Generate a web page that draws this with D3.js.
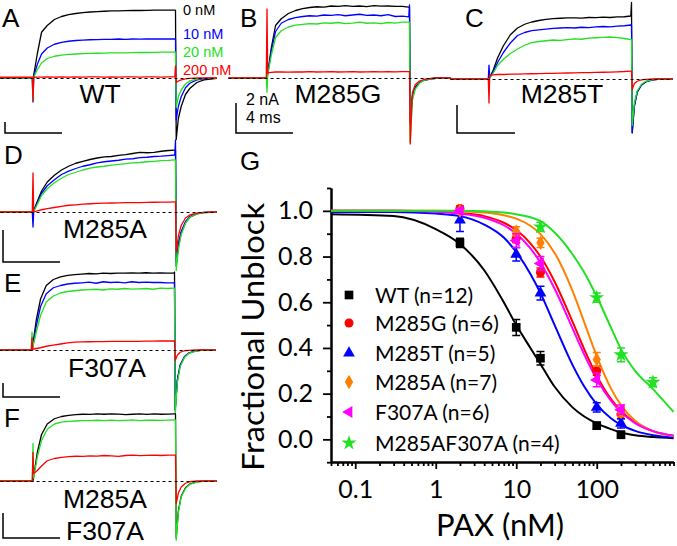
<!DOCTYPE html>
<html><head><meta charset="utf-8">
<script src="https://cdn.jsdelivr.net/npm/d3@7"></script>
<style>body{margin:0;background:#fff}svg{display:block}</style>
</head><body>
<svg id="c" width="677" height="546"></svg>
<script>
// ---------- time base for current traces (ms) ----------
const T = [-2.7,-0.05,0,0.05,0.3,0.6,1.0,1.5,2.0,2.5,3.0,3.5,4.0,4.5,5.0,5.5,6.0,6.5,7.0,7.5,8.0,8.5,9.0,9.5,9.95,10.0,10.05,10.2,10.4,10.7,11.0,11.5,12.0,12.9];
// ---------- current traces (nA) ----------
const A_black=[0,0,0,0.2,1.6,3.05,3.5,3.9,4.1,4.22,4.3,4.36,4.4,4.43,4.45,4.47,4.48,4.49,4.5,4.5,4.51,4.52,4.52,4.53,4.53,4.53,-4.1,-2.7,-1.9,-1.1,-0.7,-0.3,-0.12,-0.03];
const A_blue=[0,0,-1.6,0.1,0.9,1.6,2.0,2.25,2.38,2.45,2.5,2.53,2.55,2.56,2.58,2.57,2.6,2.58,2.6,2.59,2.61,2.6,2.6,2.61,2.6,2.6,-2.8,-1.9,-1.25,-0.65,-0.35,-0.13,-0.05,0];
const A_green=[0,0,-1.5,0.05,0.55,1.0,1.3,1.45,1.53,1.58,1.6,1.62,1.64,1.65,1.66,1.67,1.68,1.68,1.69,1.7,1.7,1.71,1.72,1.72,1.73,1.73,-1.95,-1.25,-0.8,-0.4,-0.2,-0.07,-0.02,0];
const A_red=[0.05,0.05,-1.5,0.05,0.06,0.06,0.07,0.06,0.07,0.06,0.07,0.06,0.07,0.07,0.06,0.07,0.06,0.07,0.07,0.06,0.07,0.07,0.06,0.07,0.07,0.8,-0.3,-0.2,-0.12,-0.06,-0.03,0,0,0];
const B_black=[0,0,0,0.3,2.0,3.5,3.95,4.3,4.5,4.62,4.7,4.75,4.72,4.8,4.78,4.82,4.78,4.8,4.76,4.82,4.79,4.8,4.77,4.78,4.73,4.73,-2.8,-1.2,-0.6,-0.3,-0.15,-0.05,0,0];
const B_blue=[0,0,0,0.3,1.8,3.1,3.65,3.9,4.02,4.1,4.15,4.12,4.2,4.17,4.22,4.15,4.2,4.25,4.18,4.2,4.15,4.22,4.1,4.12,4.07,4.87,-3.0,-1.3,-0.65,-0.32,-0.15,-0.05,0,0];
const B_green=[0,0,-0.95,0.2,1.5,2.7,3.15,3.4,3.52,3.58,3.63,3.6,3.68,3.65,3.7,3.62,3.66,3.72,3.65,3.68,3.62,3.7,3.66,3.72,3.73,3.73,-4.3,-1.5,-0.75,-0.35,-0.15,-0.05,-0.02,0];
const B_red=[0,0,4.6,0.35,0.38,0.4,0.4,0.39,0.41,0.4,0.42,0.4,0.41,0.43,0.4,0.41,0.42,0.4,0.41,0.43,0.41,0.42,0.41,0.42,0.42,0.42,-4.4,-1.0,-0.45,-0.2,-0.1,-0.03,0,0];
const C_black=[0,0,0,0.1,0.6,1.4,2.2,2.95,3.4,3.65,3.8,3.9,3.98,4.02,4.05,4.07,4.08,4.06,4.1,4.09,4.12,4.1,4.14,4.15,4.2,5.1,-3.6,-1.8,-0.9,-0.4,-0.2,-0.05,0,0];
const C_blue=[0,0,0.93,0.1,0.5,1.1,1.75,2.4,2.9,3.1,3.22,3.28,3.33,3.38,3.4,3.42,3.4,3.45,3.43,3.47,3.5,3.48,3.52,3.55,3.6,3.6,-3.55,-1.8,-0.85,-0.4,-0.18,-0.05,0,0];
const C_green=[0,0,0,0.05,0.4,0.9,1.3,1.7,2.0,2.25,2.42,2.5,2.55,2.6,2.58,2.63,2.68,2.65,2.72,2.75,2.78,2.8,2.76,2.7,2.62,2.62,-3.1,-1.6,-0.8,-0.35,-0.15,-0.04,0,0];
const C_red=[0,0,-1.6,0.25,0.28,0.3,0.3,0.32,0.33,0.34,0.35,0.36,0.37,0.38,0.39,0.4,0.41,0.42,0.43,0.44,0.45,0.46,0.48,0.5,0.53,0.53,-0.7,-0.3,-0.15,-0.06,-0.02,0,0,0];
const D_black=[0,0,0,0.1,0.7,1.4,2.0,2.45,2.8,3.05,3.25,3.38,3.5,3.6,3.68,3.7,3.78,3.82,3.9,3.97,3.95,3.98,4.05,4.1,4.13,4.13,-3.6,-2.3,-1.4,-0.7,-0.35,-0.12,-0.04,0];
const D_blue=[0,0,-1.0,0.05,0.6,1.25,1.75,2.15,2.5,2.72,2.9,3.05,3.15,3.28,3.35,3.4,3.45,3.52,3.55,3.62,3.65,3.7,3.72,3.76,3.8,4.8,-3.3,-2.1,-1.3,-0.65,-0.3,-0.1,-0.03,0];
const D_green=[0,0,0,0.05,0.5,1.1,1.55,1.95,2.25,2.5,2.65,2.8,2.92,3.0,3.05,3.12,3.18,3.22,3.28,3.3,3.35,3.38,3.42,3.44,3.47,3.47,-3.9,-2.5,-1.5,-0.75,-0.35,-0.12,-0.04,0];
const D_red=[0,0,2.6,0.0,0.08,0.15,0.22,0.3,0.38,0.45,0.48,0.52,0.55,0.57,0.59,0.6,0.61,0.62,0.63,0.63,0.64,0.65,0.66,0.66,0.67,0.67,-2.7,-1.6,-0.9,-0.4,-0.2,-0.07,-0.02,0];
const E_black=[0,0,0,0.3,2.0,3.4,4.3,4.7,4.88,4.98,5.03,5.06,5.1,5.08,5.12,5.1,5.13,5.12,5.14,5.12,5.15,5.13,5.14,5.13,5.13,5.2,-4.0,-2.0,-1.0,-0.45,-0.2,-0.06,0,0];
const E_blue=[0,0,0,0.2,1.6,2.9,3.75,4.15,4.3,4.4,4.45,4.48,4.52,4.45,4.55,4.5,4.52,4.48,4.55,4.5,4.52,4.5,4.5,4.48,4.47,4.47,-4.0,-2.0,-1.0,-0.45,-0.2,-0.06,0,0];
const E_green=[0,0,1.2,0.15,1.2,2.3,3.2,3.6,3.8,3.9,3.95,4.0,4.02,4.05,4.0,4.08,4.05,4.1,4.06,4.08,4.1,4.05,4.12,4.1,4.13,4.13,-4.3,-2.2,-1.1,-0.5,-0.22,-0.07,0,0];
const E_red=[0,0,0.8,0.05,0.1,0.15,0.25,0.33,0.4,0.47,0.52,0.54,0.55,0.56,0.56,0.57,0.57,0.58,0.58,0.58,0.59,0.59,0.6,0.6,0.6,0.6,-0.7,-0.35,-0.15,-0.05,-0.02,0,0,0];
const F_black=[0,0,0,0.3,1.9,3.1,3.8,4.15,4.3,4.38,4.42,4.45,4.44,4.47,4.45,4.48,4.46,4.42,4.45,4.47,4.44,4.47,4.45,4.46,4.47,4.47,-3.8,-2.0,-1.0,-0.45,-0.2,-0.06,0,0];
const F_green=[0,0,2.5,0.2,1.6,2.7,3.45,3.8,3.92,3.98,4.0,4.03,4.02,4.05,4.03,4.06,4.02,4.04,4.07,4.03,4.05,4.06,4.04,4.06,4.07,4.07,-3.95,-2.1,-1.05,-0.5,-0.22,-0.07,0,0];
const F_red=[0,0,1.9,0.5,0.7,1.0,1.35,1.5,1.58,1.62,1.65,1.64,1.68,1.66,1.7,1.68,1.64,1.7,1.72,1.69,1.71,1.72,1.7,1.72,1.73,1.73,-1.5,-0.8,-0.4,-0.15,-0.05,0,0,0];
const concLabels=["0 nM","10 nM","20 nM","200 nM"];
const scaleLabels=["2 nA","4 ms"];

// ---------- dose-response (panel G) ----------
const seriesNames=["WT (n=12)","M285G (n=6)","M285T (n=5)","M285A (n=7)","F307A (n=6)","M285AF307A (n=4)"];
const WT_conc=[2,10,20,100,200], WT_val=[0.86,0.49,0.355,0.06,0.02], WT_err=[0.02,0.035,0.03,0.015,0.015];
const M285G_conc=[2,10,20,100,200], M285G_val=[1.01,0.88,0.73,0.30,0.11], M285G_err=[0.01,0.02,0.02,0.02,0.02];
const M285T_conc=[2,10,20,100,200], M285T_val=[0.96,0.81,0.64,0.14,0.07], M285T_err=[0.05,0.03,0.03,0.02,0.02];
const M285A_conc=[2,10,20,100,200], M285A_val=[1.0,0.91,0.86,0.35,0.12], M285A_err=[0.01,0.02,0.02,0.03,0.02];
const F307A_conc=[2,10,20,100,200], F307A_val=[1.0,0.87,0.77,0.26,0.13], F307A_err=[0.01,0.03,0.03,0.03,0.02];
const DM_conc=[20,100,200,500], DM_val=[0.93,0.62,0.37,0.25], DM_err=[0.02,0.02,0.03,0.02];
const fitConc=[0.05,0.3,1,2,4,7,10,15,20,30,50,70,100,150,200,300,500,900];
const WT_fit=[0.985,0.977,0.92,0.855,0.74,0.6,0.5,0.4,0.33,0.23,0.14,0.1,0.07,0.045,0.03,0.018,0.01,0.005];
const M285G_fit=[1.0,1.0,0.997,0.99,0.977,0.948,0.916,0.858,0.8,0.69,0.515,0.394,0.279,0.177,0.124,0.073,0.036,0.016];
const M285T_fit=[0.995,0.995,0.988,0.977,0.94,0.883,0.82,0.724,0.64,0.5,0.326,0.231,0.153,0.092,0.063,0.037,0.018,0.008];
const M285A_fit=[1.0,1.0,1.0,0.998,0.993,0.981,0.966,0.935,0.898,0.816,0.65,0.512,0.364,0.223,0.15,0.081,0.036,0.013];
const F307A_fit=[1.0,1.0,0.996,0.988,0.97,0.937,0.9,0.836,0.773,0.659,0.486,0.371,0.264,0.169,0.119,0.071,0.036,0.016];
const DM_fit=[1.0,1.0,1.0,1.0,0.998,0.993,0.985,0.972,0.955,0.905,0.81,0.73,0.625,0.49,0.395,0.3,0.22,0.12];
const xMajor=[0.1,1,10,100], xTickLabels=["0.1","1","10","100"];
const yMajor=[0,0.2,0.4,0.6,0.8,1.0], yTickLabels=["0.0","0.2","0.4","0.6","0.8","1.0"];

// ---------- drawing ----------
const BLACK="#000", BLUE="#0000ff", GREEN="#22e022", RED="#ff0000", ORANGE="#ff8000", MAG="#ff00ff";
const svg=d3.select("#c");
const ARIAL="'Liberation Sans', Arial, sans-serif";
const CAL="Lato, 'Open Sans', sans-serif";

const panels=[
 {letter:"A",lx:2,ly:27,onset:33,base:78,traces:[[A_black,BLACK],[A_blue,BLUE],[A_green,GREEN],[A_red,RED]],names:[["WT",100,103]],bar:[5,122,133,62]},
 {letter:"B",lx:240,ly:27,onset:267,base:78,traces:[[B_black,BLACK],[B_blue,BLUE],[B_green,GREEN],[B_red,RED]],names:[["M285G",338,103]],bar:[236,103,133,293]},
 {letter:"C",lx:465,ly:27,onset:489,base:79,traces:[[C_black,BLACK],[C_blue,BLUE],[C_green,GREEN],[C_red,RED]],names:[["M285T",562,103]],bar:[457,105,133,515]},
 {letter:"D",lx:4,ly:164,onset:33,base:212,traces:[[D_black,BLACK],[D_blue,BLUE],[D_green,GREEN],[D_red,RED]],names:[["M285A",105,238]],bar:[3,230,262,60]},
 {letter:"E",lx:4,ly:292,onset:32,base:350,traces:[[E_black,BLACK],[E_blue,BLUE],[E_green,GREEN],[E_red,RED]],names:[["F307A",107,377]],bar:[3,383,397,60]},
 {letter:"F",lx:4,ly:427,onset:33,base:481,traces:[[F_black,BLACK],[F_green,GREEN],[F_red,RED]],names:[["M285A",105,508],["F307A",105,540]],bar:[3,513,538,60]}
];

panels.forEach(p=>{
  const x=d3.scaleLinear().domain([0,4]).range([p.onset,p.onset+57]);
  const y=d3.scaleLinear().domain([0,2]).range([p.base,p.base-30]);
  const line=d3.line().x((d,i)=>x(T[i])).y(d=>y(d));
  const g=svg.append("g");
  p.traces.forEach(([vals,col])=>{
    g.append("path").attr("d",line(vals)).attr("fill","none").attr("stroke",col).attr("stroke-width",1.3).attr("stroke-linejoin","round");
  });
  g.append("line").attr("x1",x(T[0])).attr("x2",x(T[T.length-1])).attr("y1",y(0)+0.5).attr("y2",y(0)+0.5)
    .attr("stroke","#000").attr("stroke-width",1).attr("stroke-dasharray","3,3");
  g.append("text").attr("x",p.lx).attr("y",p.ly).text(p.letter).attr("font-family",ARIAL).attr("font-size",26);
  p.names.forEach(([t,cx,by])=>g.append("text").attr("x",cx).attr("y",by).attr("text-anchor","middle").text(t).attr("font-family",ARIAL).attr("font-size",26.5));
  const [bx,by1,by2,bx2]=p.bar;
  g.append("path").attr("d",`M${bx},${by1}V${by2}H${bx2}`).attr("fill","none").attr("stroke","#000").attr("stroke-width",1.5);
});
// concentration labels (panel A)
const cl=[[BLACK,15],[BLUE,39],[GREEN,57],[RED,75]];
concLabels.forEach((t,i)=>svg.append("text").attr("x",183).attr("y",cl[i][1]).text(t).attr("fill",cl[i][0]).attr("font-family",ARIAL).attr("font-size",14.5));
svg.append("text").attr("x",246).attr("y",105).text(scaleLabels[0]).attr("font-family",ARIAL).attr("font-size",16);
svg.append("text").attr("x",246).attr("y",123).text(scaleLabels[1]).attr("font-family",ARIAL).attr("font-size",16);

// ---------- panel G ----------
const gx=d3.scaleLog().domain([0.05,900]).range([331,331+80.5*Math.log10(900/0.05)]);
const gy=d3.scaleLinear().domain([-0.1,1.1]).range([462.2,188]);
const G=svg.append("g");
G.append("text").attr("x",240).attr("y",170).text("G").attr("font-family",ARIAL).attr("font-size",26);

const xMinor=[];
[0.01,0.1,1,10,100].forEach(d=>{for(let k=2;k<=9;k++){const v=d*k;if(v>=0.05&&v<=900)xMinor.push(v);}});
const yMinor=[-0.1,0.1,0.3,0.5,0.7,0.9,1.1];

G.append("g").attr("transform","translate(0,462)")
 .call(d3.axisBottom(gx).tickValues(xMajor).tickSize(7).tickSizeOuter(0).tickPadding(11).tickFormat((d,i)=>xTickLabels[i]));
G.append("g").attr("transform","translate(0,462)").call(d3.axisBottom(gx).tickValues(xMinor).tickSize(4).tickSizeOuter(0).tickFormat(""));
G.append("g").attr("transform","translate(331,0)")
 .call(d3.axisLeft(gy).tickValues(yMajor).tickSize(8).tickSizeOuter(0).tickPadding(10).tickFormat((d,i)=>yTickLabels[i]));
G.append("g").attr("transform","translate(331,0)").call(d3.axisLeft(gy).tickValues(yMinor).tickSize(4).tickSizeOuter(0).tickFormat(""));
G.selectAll(".domain").attr("stroke","#000").attr("stroke-width",2);
G.selectAll(".tick line").attr("stroke","#000").attr("stroke-width",1.8);
G.selectAll(".tick text").attr("font-family",CAL).attr("font-size",25).attr("fill","#000");

G.append("text").attr("transform","translate(264,337) rotate(-90)").attr("text-anchor","middle")
 .text("Fractional Unblock").attr("font-family",CAL).attr("font-size",31).attr("textLength",268).attr("lengthAdjust","spacingAndGlyphs");
G.append("text").attr("x",500).attr("y",536).attr("text-anchor","middle").text("PAX (nM)").attr("font-family",CAL).attr("font-size",31);

const series=[
 {c:WT_conc,v:WT_val,e:WT_err,f:WT_fit,col:BLACK,sym:d3.symbolSquare,size:75,rot:0},
 {c:M285G_conc,v:M285G_val,e:M285G_err,f:M285G_fit,col:RED,sym:d3.symbolCircle,size:64,rot:0},
 {c:M285T_conc,v:M285T_val,e:M285T_err,f:M285T_fit,col:BLUE,sym:d3.symbolTriangle,size:60,rot:0},
 {c:M285A_conc,v:M285A_val,e:M285A_err,f:M285A_fit,col:ORANGE,sym:d3.symbolDiamond,size:60,rot:0},
 {c:F307A_conc,v:F307A_val,e:F307A_err,f:F307A_fit,col:MAG,sym:d3.symbolTriangle,size:60,rot:-90},
 {c:DM_conc,v:DM_val,e:DM_err,f:DM_fit,col:GREEN,sym:d3.symbolStar,size:70,rot:0}
];
const fitLine=d3.line().x((d,i)=>gx(fitConc[i])).y(d=>gy(d)).curve(d3.curveMonotoneX);
series.forEach(s=>{
  G.append("path").attr("d",fitLine(s.f)).attr("fill","none").attr("stroke",s.col).attr("stroke-width",2);
});
series.forEach(s=>{
  s.c.forEach((c,i)=>{
    const px=gx(c), y1=gy(s.v[i]-s.e[i]), y2=gy(s.v[i]+s.e[i]);
    G.append("path").attr("d",`M${px},${y1}V${y2}M${px-4},${y1}H${px+4}M${px-4},${y2}H${px+4}`).attr("stroke",s.col).attr("stroke-width",1.5).attr("fill","none");
    G.append("path").attr("d",d3.symbol(s.sym,s.size)()).attr("fill",s.col)
     .attr("transform",`translate(${px},${gy(s.v[i])}) rotate(${s.rot})`);
  });
});
// legend
const legY=[295,323,353,382,412,443];
series.forEach((s,i)=>{
  G.append("path").attr("d",d3.symbol(s.sym,s.size)()).attr("fill",s.col).attr("transform",`translate(349,${legY[i]}) rotate(${s.rot})`);
  G.append("text").attr("x",375).attr("y",legY[i]).attr("dy","0.36em").text(seriesNames[i]).attr("font-family",CAL).attr("font-size",21).attr("fill","#000");
});
</script>
</body></html>
